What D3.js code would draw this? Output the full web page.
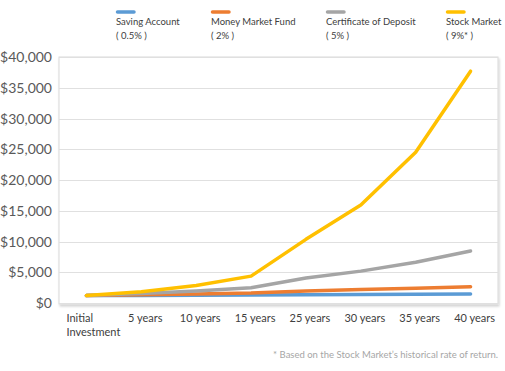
<!DOCTYPE html>
<html lang="en">
<head>
<meta charset="utf-8">
<title>Savings growth</title>
<script src="https://d3js.org/d3.v7.min.js"></script>
<style>
  body { margin: 0; background: #fff; }
  svg { font-family: Lato, "Open Sans", sans-serif; }
</style>
</head>
<body>
<svg id="chart" width="505" height="371"></svg>
<script>
// data
var categories = ["Initial Investment", "5 years", "10 years", "15 years", "25 years", "30 years", "35 years", "40 years"];
var seriesNames = ["Saving Account", "Money Market Fund", "Certificate of Deposit", "Stock Market"];
var seriesRates = ["( 0.5% )", "( 2% )", "( 5% )", "( 9%* )"];
var seriesColors = ["#5b9bd5", "#ed7d31", "#a5a5a5", "#ffc000"];
var savingAccount = [1200, 1230, 1260, 1290, 1360, 1390, 1430, 1465];
var moneyMarket = [1200, 1325, 1460, 1615, 1970, 2175, 2400, 2650];
var certDeposit = [1200, 1530, 1955, 2495, 4065, 5185, 6620, 8450];
var stockMarket = [1200, 1845, 2840, 4370, 10350, 15925, 24500, 37700];
var yTicks = [0, 5000, 10000, 15000, 20000, 25000, 30000, 35000, 40000];

var series = [savingAccount, moneyMarket, certDeposit, stockMarket];

var svg = d3.select("#chart");
var plotLeft = 59, plotRight = 498, plotTop = 57, plotBottom = 303;

var x = d3.scalePoint().domain(categories).range([plotLeft, plotRight]).padding(0.5);
var y = d3.scaleLinear().domain([0, 40000]).range([plotBottom, plotTop]);

// plot frame with soft shadow
var defs = svg.append("defs");
var f = defs.append("filter").attr("id", "shadow").attr("x", "-5%").attr("y", "-5%").attr("width", "110%").attr("height", "115%");
f.append("feDropShadow").attr("dx", 1).attr("dy", 2).attr("stdDeviation", 1.2).attr("flood-color", "#000").attr("flood-opacity", 0.18);

svg.append("rect")
  .attr("x", plotLeft).attr("y", plotTop)
  .attr("width", plotRight - plotLeft).attr("height", plotBottom - plotTop + 1)
  .attr("fill", "#fff").attr("stroke", "#d9d9d9").attr("stroke-width", 1)
  .attr("filter", "url(#shadow)");

// grid
svg.append("g").selectAll("line")
  .data(yTicks)
  .enter().append("line")
    .attr("x1", plotLeft).attr("x2", plotRight)
    .attr("y1", function(d) { return Math.round(y(d)) + 0.5; })
    .attr("y2", function(d) { return Math.round(y(d)) + 0.5; })
    .attr("stroke", "#e0e0e0").attr("stroke-width", 1);

// y labels
svg.append("g").selectAll("text")
  .data(yTicks)
  .enter().append("text")
    .attr("x", 52)
    .attr("y", function(d) { return y(d) + 5; })
    .attr("text-anchor", "end")
    .attr("font-size", "14px")
    .attr("fill", "#595959")
    .text(function(d) { return "$" + d3.format(",")(d); });

// x labels
var xl = svg.append("g").selectAll("text")
  .data(categories)
  .enter().append("text")
    .attr("font-size", "11px")
    .attr("fill", "#404040")
    .attr("text-anchor", function(d, i) { return i == 0 ? "start" : "middle"; })
    .attr("y", 322);
xl.each(function(d, i) {
  var words = i == 0 ? d.split(" ") : [d];
  var t = d3.select(this);
  words.forEach(function(w, j) {
    t.append("tspan")
      .attr("x", i == 0 ? x(d) - 20 : x(d) + 4)
      .attr("dy", j == 0 ? 0 : 14)
      .text(w);
  });
});

// lines
var line = d3.line()
  .x(function(d, i) { return x(categories[i]); })
  .y(function(d) { return y(d); });

svg.append("g").selectAll("path")
  .data(series)
  .enter().append("path")
    .attr("d", line)
    .attr("fill", "none")
    .attr("stroke", function(d, i) { return seriesColors[i]; })
    .attr("stroke-width", 3.5)
    .attr("stroke-linecap", "round")
    .attr("stroke-linejoin", "round");

// legend
var legendX = [116, 211, 326, 446];
var lg = svg.append("g").selectAll("g")
  .data(seriesNames)
  .enter().append("g")
    .attr("transform", function(d, i) { return "translate(" + legendX[i] + ",0)"; });
lg.append("line")
  .attr("x1", 1.5).attr("x2", 18).attr("y1", 12).attr("y2", 12)
  .attr("stroke", function(d, i) { return seriesColors[i]; })
  .attr("stroke-width", 3.5).attr("stroke-linecap", "round");
lg.append("text")
  .attr("y", 25).attr("font-size", "9.5px").attr("fill", "#404040")
  .text(function(d) { return d; });
lg.append("text")
  .attr("y", 39).attr("font-size", "9.5px").attr("fill", "#404040")
  .text(function(d, i) { return seriesRates[i]; });

// footnote
svg.append("text")
  .attr("x", 498).attr("y", 358)
  .attr("text-anchor", "end")
  .attr("font-size", "9.5px")
  .attr("fill", "#a6a6a6")
  .text("* Based on the Stock Market\u2019s historical rate of return.");
</script>
</body>
</html>
